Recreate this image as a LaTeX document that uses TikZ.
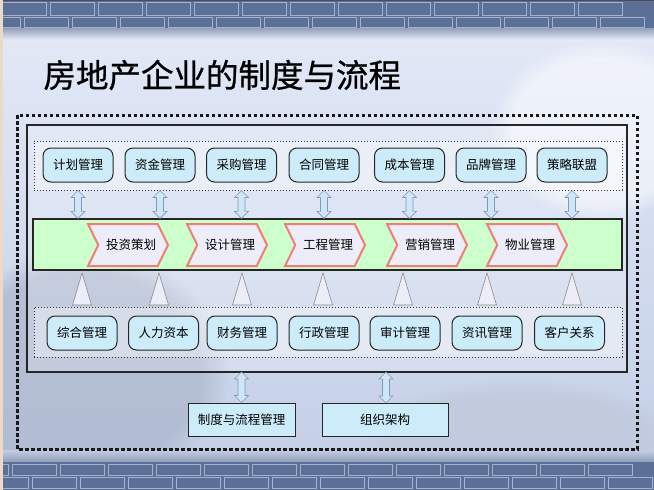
\documentclass[tikz,border=0pt]{standalone}
\usepackage{fontspec}
\newfontfamily\cjk{Noto Sans CJK SC}
\newfontfamily\cjktitle[FakeBold=0.8]{Noto Sans CJK SC}
\usetikzlibrary{shapes.symbols,calc,fadings}
\definecolor{bgtop}{HTML}{E4EAF7}
\definecolor{bgbot}{HTML}{C2CEE6}
\definecolor{brick}{HTML}{5C6F96}
\definecolor{brickline}{HTML}{A3B2CE}
\definecolor{pillfill}{HTML}{CCECFA}
\definecolor{barfill}{HTML}{CCFFCC}
\definecolor{chevline}{HTML}{F07E78}
\definecolor{chevfill}{HTML}{ECEDF8}
\definecolor{arrfill}{HTML}{CFE6F6}
\definecolor{arrline}{HTML}{7E9CBA}
\tikzset{
  pill/.style={draw=black!85,line width=1pt,rounded corners=8pt,fill=pillfill,
    minimum width=70pt,minimum height=34pt,inner sep=0pt,font=\cjk\fontsize{12.5}{14}\selectfont},
  chev/.style={shape=signal,signal from=west,signal to=east,signal pointer angle=128,
    draw=chevline,line width=2pt,fill=chevfill,minimum width=80pt,minimum height=42pt,
    inner sep=0pt,font=\cjk\fontsize{12.5}{14}\selectfont},
  grp/.style={draw=black!80,dotted,line width=1pt,fill=white,fill opacity=.35,text opacity=1},
  dblarr/.style={draw=arrline,fill=arrfill,line width=.6pt},
  tri/.style={draw=black!45,fill=chevfill,line width=.6pt},
  plainbox/.style={draw=black!85,line width=1pt,fill=pillfill,minimum height=33pt,
    inner sep=0pt,font=\cjk\fontsize{12.5}{14}\selectfont}
}
% hollow up-down arrow between two points (top, bottom)
\newcommand{\updown}[2]{%
  \draw[dblarr] let \p1=(#1), \p2=(#2) in
    (\x1,\y1) -- (\x1+7pt,\y1-7pt) -- (\x1+3.5pt,\y1-7pt) -- (\x1+3.5pt,\y2+7pt)
    -- (\x1+7pt,\y2+7pt) -- (\x1,\y2) -- (\x1-7pt,\y2+7pt) -- (\x1-3.5pt,\y2+7pt)
    -- (\x1-3.5pt,\y1-7pt) -- (\x1-7pt,\y1-7pt) -- cycle;}
\begin{document}
\begin{tikzpicture}[x=1pt,y=-1pt]
% background
\useasboundingbox (0,0) rectangle (654,490);
\shade[top color=bgtop,bottom color=bgbot] (0,0) rectangle (654,490);
\fill[brick!55,path fading=circle with fuzzy edge 20 percent,opacity=.6] (80,370) ellipse (150pt and 120pt);
\fill[white,path fading=circle with fuzzy edge 20 percent,opacity=.5] (600,130) ellipse (110pt and 90pt);
\fill[brick!40,path fading=circle with fuzzy edge 20 percent,opacity=.5] (520,440) ellipse (160pt and 60pt);
% brick bands
\shade[top color=brick!70,bottom color=bgtop] (0,27) rectangle (654,40);
\fill[brick] (0,0) rectangle (654,28);
\shade[bottom color=brick!70,top color=bgbot] (0,450) rectangle (654,463);
\fill[brick] (0,462) rectangle (654,490);
\foreach \ya/\yb/\off in {2/15/0,17/27/22,464/475/10,477/488/30}{
  \foreach \x in {0,48,...,654}{
    \draw[brickline,line width=.7pt] (\x+\off-48+2,\ya) rectangle (\x+\off-2,\yb);
  }
}
\draw[black!70,line width=.8pt] (0,0) rectangle (654,490);
\fill[brown!30!white] (0,0) rectangle (3,490);
% title
\node[anchor=west,font=\cjktitle\fontsize{32.5}{36}\selectfont] (title) at (40,75) {房地产企业的制度与流程};
% frames
\draw[black!90,dash pattern=on 3.5pt off 2.5pt,line width=3pt] (17,115) rectangle (637,449);
\draw[black!85,line width=1.2pt,fill=white,fill opacity=.2] (27,125) rectangle (627,372);
\coordinate (inbot) at (27,372);
\node[grp,minimum width=588pt,minimum height=49pt] (tgrp) at (328,165.5) {};
\node[grp,minimum width=588pt,minimum height=50pt] (bgrp) at (328,332) {};
\node[draw=black!85,line width=1.2pt,fill=barfill,minimum width=589pt,minimum height=51pt] (bar) at (327.5,244.5) {};
% top row
\foreach \name/\x [count=\i] in {计划管理/78,资金管理/160,采购管理/241.5,合同管理/324,成本管理/409.5,品牌管理/491,策略联盟/572}{
  \node[pill] (t\i) at (\x,165) {\name};
  \updown{t\i.south |- tgrp.south}{t\i.south |- bar.north}
}
% process chain
\foreach \name/\x [count=\i] in {投资策划/128,设计管理/227,工程管理/325,营销管理/427,物业管理/527}{
  \node[chev] (c\i) at (\x,245) {\hspace{6pt}\name};
}
% bottom row
\foreach \name/\x [count=\i] in {综合管理/82,人力资本/163.5,财务管理/242,行政管理/324,审计管理/405,资讯管理/487,客户关系/569.5}{
  \node[pill] (b\i) at (\x,333) {\name};
}
\foreach \x in {82,159,242,323,403,487,572}{
  \draw[tri] (\x-9.5,305) -- (\x,273) -- (\x+9.5,305) -- cycle;
}
% base boxes
\node[plainbox,minimum width=107pt] (rule) at (241.5,419.5) {制度与流程管理};
\node[plainbox,minimum width=126pt] (org) at (385,419.5) {组织架构};
\updown{rule.north |- inbot}{rule.north}
\updown{386,372}{386,403}
\end{tikzpicture}
\end{document}
